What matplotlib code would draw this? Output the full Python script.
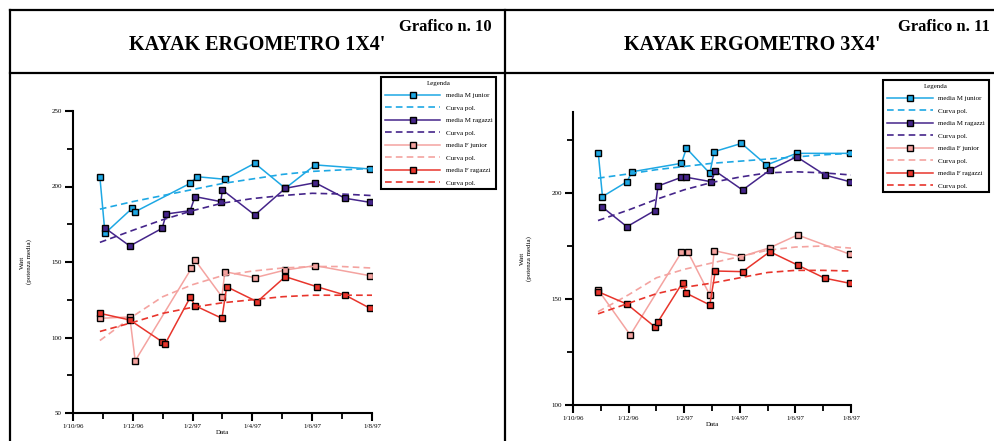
import numpy as np
import matplotlib.pyplot as plt
from matplotlib.lines import Line2D
from matplotlib.ticker import MultipleLocator

# ---- Grafico n. 10 : KAYAK ERGOMETRO 1X4' ----
x_mu_10 = [0.45, 0.535, 0.99, 1.04, 1.96, 2.07, 2.54, 3.04, 3.55, 4.05, 4.97]
mu_10 = [206.1, 169.0, 185.6, 183.3, 202.1, 206.5, 204.8, 215.4, 198.8, 214.3, 211.6]
x_mr_10 = [0.535, 0.95, 1.49, 1.56, 1.96, 2.04, 2.47, 2.50, 3.04, 3.55, 4.05, 4.55, 4.97]
mr_10 = [172.5, 160.6, 172.3, 181.8, 184.0, 193.3, 190.0, 197.7, 181.1, 198.8, 202.5, 192.2, 189.5]
x_fj_10 = [0.45, 0.95, 1.04, 1.98, 2.04, 2.49, 2.54, 3.04, 3.55, 4.05, 4.97]
fj_10 = [112.7, 113.6, 84.6, 145.8, 151.3, 127.0, 143.6, 139.6, 144.7, 147.6, 140.9]
x_fr_10 = [0.45, 0.95, 1.49, 1.54, 1.96, 2.04, 2.49, 2.57, 3.08, 3.55, 4.08, 4.55, 4.97]
fr_10 = [116.0, 111.6, 97.2, 95.7, 126.6, 121.1, 112.7, 133.6, 123.7, 140.3, 133.6, 128.1, 119.3]

# curve polinomiali (lette a passo 0.5)
x_pol = [0.45, 1.0, 1.5, 2.0, 2.5, 3.0, 3.5, 4.0, 4.5, 5.0]
pol_mu_10 = [185, 190, 194, 198, 202, 205, 208, 210, 211, 212]
pol_mr_10 = [163, 171, 178, 184, 189, 192, 194, 195.5, 195, 194]
pol_fj_10 = [98, 114, 127, 135, 141, 144, 146, 147, 147, 146]
pol_fr_10 = [104, 110, 116, 120, 123, 125, 127, 128, 128, 128]

# ---- Grafico n. 11 : KAYAK ERGOMETRO 3X4' ----
x_mu_11 = [0.455, 0.53, 0.97, 1.06, 1.95, 2.04, 2.46, 2.54, 3.03, 3.48, 4.02, 4.98]
mu_11 = [218.7, 198.3, 205.3, 210.0, 214.0, 221.1, 209.3, 219.5, 223.4, 213.2, 218.7, 218.7]
x_mr_11 = [0.53, 0.97, 1.47, 1.53, 1.95, 2.04, 2.49, 2.55, 3.05, 3.54, 4.02, 4.53, 4.98]
mr_11 = [193.3, 184.1, 191.7, 203.3, 207.4, 207.4, 205.3, 210.5, 201.4, 210.8, 217.1, 208.5, 205.3]
x_fj_11 = [0.455, 1.03, 1.95, 2.07, 2.46, 2.54, 3.03, 3.54, 4.04, 4.98]
fj_11 = [154.2, 133.0, 172.0, 172.0, 151.9, 172.8, 170.0, 174.2, 180.2, 171.1]
x_fr_11 = [0.455, 0.97, 1.47, 1.53, 1.97, 2.04, 2.46, 2.56, 3.05, 3.54, 4.04, 4.53, 4.98]
fr_11 = [153.4, 147.6, 136.9, 139.3, 157.7, 152.7, 147.2, 163.2, 162.9, 172.3, 166.0, 159.8, 157.4]

pol_mu_11 = [207, 209, 211, 212.5, 214, 215, 216, 217, 218, 218.7]
pol_mr_11 = [187, 192, 197, 201.5, 205, 207.5, 209.5, 210, 209.5, 208.5]
pol_fj_11 = [144, 152, 160, 164, 167, 170, 173, 174.5, 175, 174]
pol_fr_11 = [143, 148, 152.5, 155.5, 157.5, 160, 162.5, 163.5, 163.5, 163.2]

date_labels = ['1/10/96', '1/12/96', '1/2/97', '1/4/97', '1/6/97', '1/8/97']
series_names = ['media M junior', 'media M ragazzi', 'media F junior', 'media F ragazzi']
colors = ['#1ea8e4', '#45258a', '#f4a3a0', '#e8352c']

plt.rcParams['font.family'] = ['Liberation Serif', 'DejaVu Serif']

fig = plt.figure(figsize=(9.95, 4.41), dpi=100)


def px(x, y):
    return x / 995, 1 - y / 441


def frame_line(x0, y0, x1, y1, lw=1.6):
    (a, b), (c, d) = px(x0, y0), px(x1, y1)
    fig.add_artist(Line2D([a, c], [b, d], color='black', lw=lw))


# cornice e divisori
frame_line(10, 10, 995, 10)
frame_line(10, 10, 10, 441)
frame_line(505, 10, 505, 441)
frame_line(10, 73, 995, 73)


def panel(rect, numero, titolo, data, pols, ylim, yticks_major, legend_xy, hlen):
    ax = fig.add_axes(rect)
    for (xs, ys), pol, c, name in zip(data, pols, colors, series_names):
        ax.plot(xs, ys, '-', color=c, lw=1.1, marker='s', ms=4,
                mfc=c, mec='black', mew=1.0, label=name)
        ax.plot(x_pol, pol, '--', color=c, lw=1.2, dashes=(4, 2.5),
                label='Curva pol.')
    ax.set_xlim(0, 5)
    ax.set_ylim(*ylim)
    ax.set_xticks(range(6))
    ax.set_xticklabels(date_labels)
    ax.xaxis.set_minor_locator(MultipleLocator(0.5))
    ax.set_yticks(yticks_major)
    ax.yaxis.set_minor_locator(MultipleLocator(25))
    for s in ('top', 'right'):
        ax.spines[s].set_visible(False)
    for s in ('left', 'bottom'):
        ax.spines[s].set_linewidth(1.5)
    ax.tick_params(which='major', length=6, width=1.5, labelsize=5, pad=2)
    ax.tick_params(which='minor', length=4, width=1.3)
    ax.set_xlabel('Data', fontsize=5, labelpad=1)
    ax.set_ylabel('Watt\n(potenza media)', fontsize=5, labelpad=14)

    leg = fig.legend(*ax.get_legend_handles_labels(), loc='upper left',
                     bbox_to_anchor=px(*legend_xy), title='Legenda',
                     fontsize=5, title_fontsize=5, handlelength=hlen,
                     labelspacing=0.95, borderpad=0.5, fancybox=False,
                     edgecolor='black', framealpha=1)
    leg.get_frame().set_linewidth(1.5)

    left = rect[0] * 995
    cx = (left - 63 + (505 if left < 500 else 995)) / 2
    fig.text(*px(cx, 45), titolo, ha='center', va='center',
             fontsize=14.5, fontweight='bold')
    right_edge = 492 if left < 500 else 990
    fig.text(*px(right_edge, 27), numero, ha='right', va='center',
             fontsize=12, fontweight='bold')
    return ax


panel([73 / 995, 28 / 441, 299 / 995, 302 / 441], 'Grafico n. 10',
      "KAYAK ERGOMETRO 1X4'",
      [(x_mu_10, mu_10), (x_mr_10, mr_10), (x_fj_10, fj_10), (x_fr_10, fr_10)],
      [pol_mu_10, pol_mr_10, pol_fj_10, pol_fr_10],
      (50, 250), [50, 100, 150, 200, 250], (378, 74), 8.0)

panel([573 / 995, 36 / 441, 278 / 995, 293 / 441], 'Grafico n. 11',
      "KAYAK ERGOMETRO 3X4'",
      [(x_mu_11, mu_11), (x_mr_11, mr_11), (x_fj_11, fj_11), (x_fr_11, fr_11)],
      [pol_mu_11, pol_mr_11, pol_fj_11, pol_fr_11],
      (100, 238.2), [100, 150, 200], (880, 77), 6.6)

fig.savefig('out.png', dpi=100)
